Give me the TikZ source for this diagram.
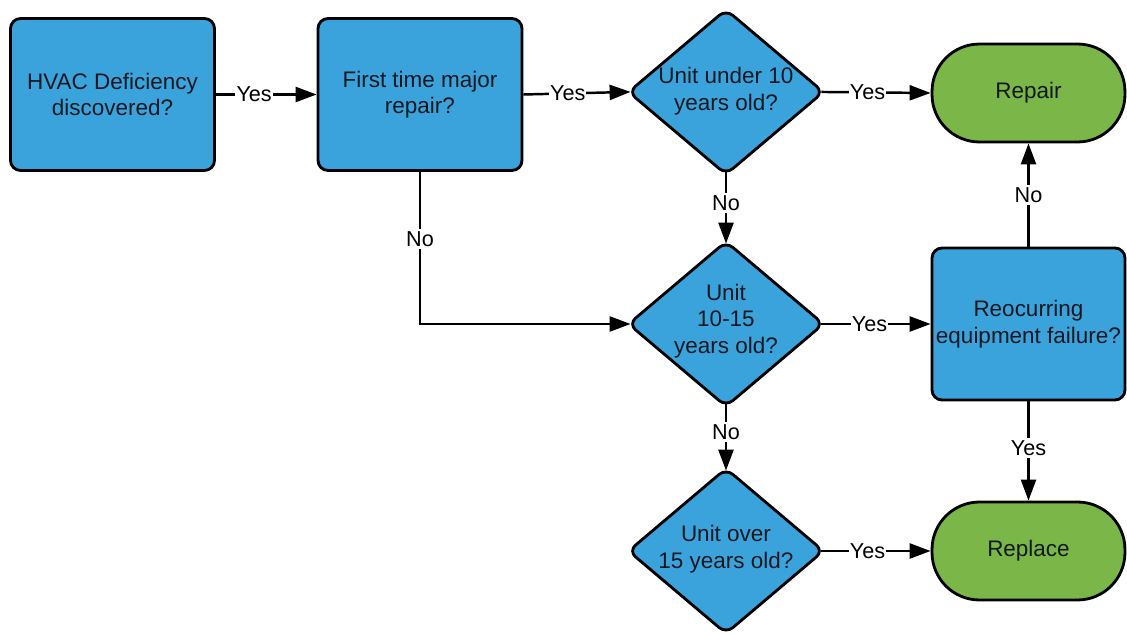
\documentclass[tikz,border=0pt]{standalone}
\usepackage{fontspec}
\setmainfont{Liberation Sans}
\usetikzlibrary{shapes.geometric,arrows.meta}
\definecolor{boxblue}{HTML}{3AA3DC}
\definecolor{boxgreen}{HTML}{7AB648}
\definecolor{txt}{HTML}{141820}
\begin{document}
\begin{tikzpicture}[x=0.02cm,y=-0.02cm,
  nodefont/.style={font=\fontsize{12.8}{15.1}\selectfont},
  proc/.style={draw=black, line width=1.6pt, fill=boxblue, rounded corners=0.2cm,
    minimum width=4.08cm, minimum height=3.04cm, inner sep=0pt, align=center, text=txt, nodefont},
  term/.style={draw=black, line width=1.6pt, fill=boxgreen, rounded corners=0.95cm,
    minimum width=3.86cm, minimum height=1.96cm, inner sep=0pt, align=center, text=txt, nodefont},
  dec/.style={diamond, draw=black, line width=1.6pt, fill=boxblue, rounded corners=0.18cm,
    minimum width=3.92cm, minimum height=3.32cm, inner sep=0pt},
  dectext/.style={align=center, text=txt, inner sep=0pt, nodefont},
  flow/.style={draw=black, line width=1.4pt, -{Triangle[length=0.42cm,width=0.3cm]}},
  fromdec/.style={shorten <=-0.08cm},
  todec/.style={shorten >=-0.08cm},
  lbl/.style={fill=white, inner xsep=0.6pt, inner ysep=1.5pt, text=black, font=\fontsize{12.3}{14}\selectfont}
]
\useasboundingbox (0,0) rectangle (1127,635);

\node[proc] (b1) at (112.5,94.5) {HVAC Deficiency\\discovered?};
\node[proc] (b2) at (420,94.5) {First time major\\repair?};
\node[dec] (d1) at (726,92) {};
\node[dectext] (t1) at (726,91) {Unit under 10\\years old?};
\node[term] (rep) at (1028.5,93) {Repair};
\node[dec] (d2) at (726,324) {};
\node[dectext] (t2) at (726,321) {Unit\\10-15\\years old?};
\node[proc, minimum width=3.86cm] (reo) at (1028.5,324) {Reocurring\\equipment failure?};
\node[dec] (d3) at (726,551) {};
\node[dectext] (t3) at (726,549) {Unit over\\15 years old?};
\node[term] (rpl) at (1028.5,551) {Replace};

\draw[flow] (b1.east) -- node[lbl,pos=0.38] {Yes} (b2.west);
\draw[flow,todec] (b2.east) -- node[lbl,pos=0.43] {Yes} (d1.west);
\draw[flow,fromdec] (d1.east) -- node[lbl,pos=0.4] {Yes} (rep.west);
\draw[flow,fromdec,todec] (d1.south) -- node[lbl,pos=0.42] {No} (d2.north);
\draw[flow,todec] (b2.south) -- node[lbl,pos=0.44] {No} (b2.south |- d2.west) -- (d2.west);
\draw[flow,fromdec] (d2.east) -- node[lbl,pos=0.42] {Yes} (reo.west);
\draw[flow] (reo.north) -- node[lbl,pos=0.5] {No} (rep.south);
\draw[flow] (reo.south) -- node[lbl,pos=0.47] {Yes} (rpl.north);
\draw[flow,fromdec,todec] (d2.south) -- node[lbl,pos=0.4] {No} (d3.north);
\draw[flow,fromdec] (d3.east) -- node[lbl,pos=0.4] {Yes} (rpl.west);
\end{tikzpicture}
\end{document}
